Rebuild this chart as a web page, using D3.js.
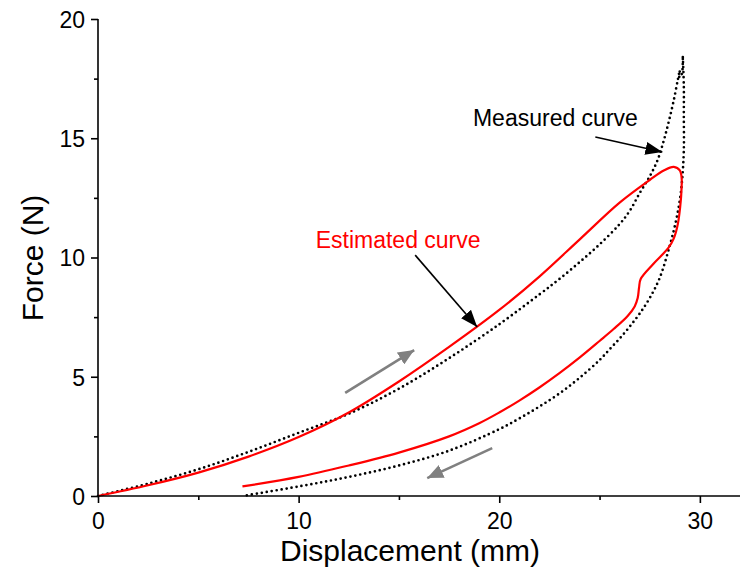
<!DOCTYPE html>
<html>
<head>
<meta charset="utf-8">
<script src="https://cdn.jsdelivr.net/npm/d3@7"></script>
<style>
  html, body { margin: 0; padding: 0; background: #fff; }
  svg { display: block; font-family: "Liberation Sans", Arial, sans-serif; }
</style>
</head>
<body>
<svg id="chart" width="741" height="577"></svg>
<script>
// Measured force–displacement loop (loading then unloading), [mm, N]
const measuredLoading = [
  [0, 0], [2.5, 0.52], [5, 1.12], [7.5, 1.85], [10, 2.65], [12.5, 3.45], [15, 4.5],
  [17.5, 5.78], [20, 7.2], [22, 8.45], [23, 9.1], [24, 9.8], [25, 10.55], [26, 11.4],
  [26.5, 11.95], [27, 12.7], [27.5, 13.4], [27.9, 14.1], [28.2, 14.9], [28.45, 15.7],
  [28.7, 16.6], [28.9, 17.45], [29.0, 17.85], [28.98, 17.55], [29.1, 17.7], [29.15, 18.4]
];
const measuredUnloading = [
  [29.15, 18.4], [29.2, 17.2], [29.2, 16.0], [29.2, 14.5], [29.12, 13.3], [29.0, 12.4],
  [28.8, 11.5], [28.5, 10.5], [28, 9.15], [27.5, 8.3], [27, 7.65], [26.5, 7.1],
  [26, 6.6], [25.5, 6.15], [25, 5.7], [24, 4.95], [23, 4.3], [22, 3.75], [21, 3.25],
  [20, 2.8], [17.5, 1.9], [15, 1.28], [12.5, 0.8], [10, 0.4], [7.2, 0]
];
// Estimated (model) loop
const estimatedLoading = [
  [0, 0], [2.5, 0.45], [5, 0.98], [7.5, 1.65], [10, 2.47], [12.5, 3.5], [15, 4.8],
  [17.5, 6.25], [20, 7.8], [22, 9.2], [24, 10.75], [26, 12.3], [27.5, 13.25],
  [28.2, 13.65], [28.7, 13.8], [29.0, 13.65], [29.1, 13.2]
];
const estimatedUnloading = [
  [29.1, 13.2], [29.05, 12.4], [28.9, 11.4], [28.7, 10.8], [28.43, 10.4],
  [27.7, 9.75], [27.05, 9.1], [26.97, 8.75], [26.9, 8.3], [26.75, 7.95], [26.4, 7.55],
  [25.7, 7.0], [25, 6.5], [24, 5.8], [23, 5.15], [22, 4.55], [21, 4.0], [20, 3.5],
  [19, 3.05], [17.5, 2.5], [15, 1.82], [12.5, 1.28], [10, 0.8], [7.2, 0.4]
];

const xTicks = [0, 10, 20, 30];
const xMinorTicks = [5, 15, 25];
const yTicks = [0, 5, 10, 15, 20];
const yMinorTicks = [2.5, 7.5, 12.5, 17.5];

// Annotations: label positions and arrows, in data units
const labels = [
  { text: "Measured curve", at: [22.8, 15.85], color: "#000" },
  { text: "Estimated curve", at: [14.96, 10.73], color: "#ff0000" }
];
const arrows = [
  { from: [24.79, 15.05], to: [28.13, 14.42], color: "#000", width: 1.6, head: "blackHead" },
  { from: [15.81, 10.1], to: [18.9, 7.09], color: "#000", width: 1.6, head: "blackHead" },
  { from: [12.32, 4.32], to: [15.76, 6.12], color: "#808080", width: 2.6, head: "grayHead" },
  { from: [19.65, 2.01], to: [16.41, 0.75], color: "#808080", width: 2.6, head: "grayHead" }
];

const svg = d3.select("#chart");
const x = d3.scaleLinear().domain([0, 32]).range([98, 740]);
const y = d3.scaleLinear().domain([0, 20]).range([496, 19]);

// arrowheads
const defs = svg.append("defs");
function head(id, color, len, wid) {
  defs.append("marker")
    .attr("id", id)
    .attr("viewBox", `0 0 ${len} ${wid}`)
    .attr("refX", len).attr("refY", wid / 2)
    .attr("markerWidth", len).attr("markerHeight", wid)
    .attr("markerUnits", "userSpaceOnUse")
    .attr("orient", "auto")
    .append("path")
    .attr("d", `M0,0 L${len},${wid / 2} L0,${wid} Z`)
    .attr("fill", color);
}
head("blackHead", "#000", 17, 13);
head("grayHead", "#808080", 16, 14);

const line = d3.line().x(d => x(d[0])).y(d => y(d[1])).curve(d3.curveCatmullRom.alpha(0.5));

// measured: dotted black
[measuredLoading, measuredUnloading].forEach(data => {
  svg.append("path")
    .attr("d", line(data))
    .attr("fill", "none")
    .attr("stroke", "#000")
    .attr("stroke-width", 2.7)
    .attr("stroke-linecap", "round")
    .attr("stroke-dasharray", "0 5");
});
// estimated: solid red
[estimatedLoading, estimatedUnloading].forEach(data => {
  svg.append("path")
    .attr("d", line(data))
    .attr("fill", "none")
    .attr("stroke", "#ff0000")
    .attr("stroke-width", 2.2)
    .attr("stroke-linejoin", "round");
});

// axes
const xAxis = svg.append("g").attr("transform", `translate(0,${y(0)})`)
  .call(d3.axisBottom(x).tickValues(xTicks).tickSize(7).tickFormat(d3.format("d")));
svg.append("g").attr("transform", `translate(0,${y(0)})`)
  .call(d3.axisBottom(x).tickValues(xMinorTicks).tickSize(4).tickFormat(""))
  .select(".domain").remove();
const yAxis = svg.append("g").attr("transform", `translate(${x(0)},0)`)
  .call(d3.axisLeft(y).tickValues(yTicks).tickSize(7).tickFormat(d3.format("d")));
svg.append("g").attr("transform", `translate(${x(0)},0)`)
  .call(d3.axisLeft(y).tickValues(yMinorTicks).tickSize(4).tickFormat(""))
  .select(".domain").remove();

xAxis.select(".domain").attr("d", `M${x(0)},0H${x(32)}`);
yAxis.select(".domain").attr("d", `M0,${y(20)}V${y(0)}`);
svg.selectAll(".domain, .tick line").attr("stroke", "#000").attr("stroke-width", 1.6);
xAxis.selectAll(".tick text").attr("font-size", 23).attr("dy", "1.0em")
  .attr("font-family", "Liberation Sans, Arial, sans-serif").attr("fill", "#000");
yAxis.selectAll(".tick text").attr("font-size", 23).attr("x", -13).attr("dy", "0.36em")
  .attr("font-family", "Liberation Sans, Arial, sans-serif").attr("fill", "#000");

// axis titles
svg.append("text")
  .attr("x", 410).attr("y", 561)
  .attr("text-anchor", "middle")
  .attr("font-size", 30)
  .text("Displacement (mm)");
svg.append("text")
  .attr("transform", `translate(43,258) rotate(-90)`)
  .attr("text-anchor", "middle")
  .attr("font-size", 30)
  .text("Force (N)");

// annotations
labels.forEach(l => {
  svg.append("text")
    .attr("x", x(l.at[0])).attr("y", y(l.at[1]))
    .attr("dy", "0.35em")
    .attr("text-anchor", "middle")
    .attr("font-size", 23)
    .attr("fill", l.color)
    .text(l.text);
});
arrows.forEach(a => {
  svg.append("line")
    .attr("x1", x(a.from[0])).attr("y1", y(a.from[1]))
    .attr("x2", x(a.to[0])).attr("y2", y(a.to[1]))
    .attr("stroke", a.color)
    .attr("stroke-width", a.width)
    .attr("marker-end", `url(#${a.head})`);
});
</script>
</body>
</html>
